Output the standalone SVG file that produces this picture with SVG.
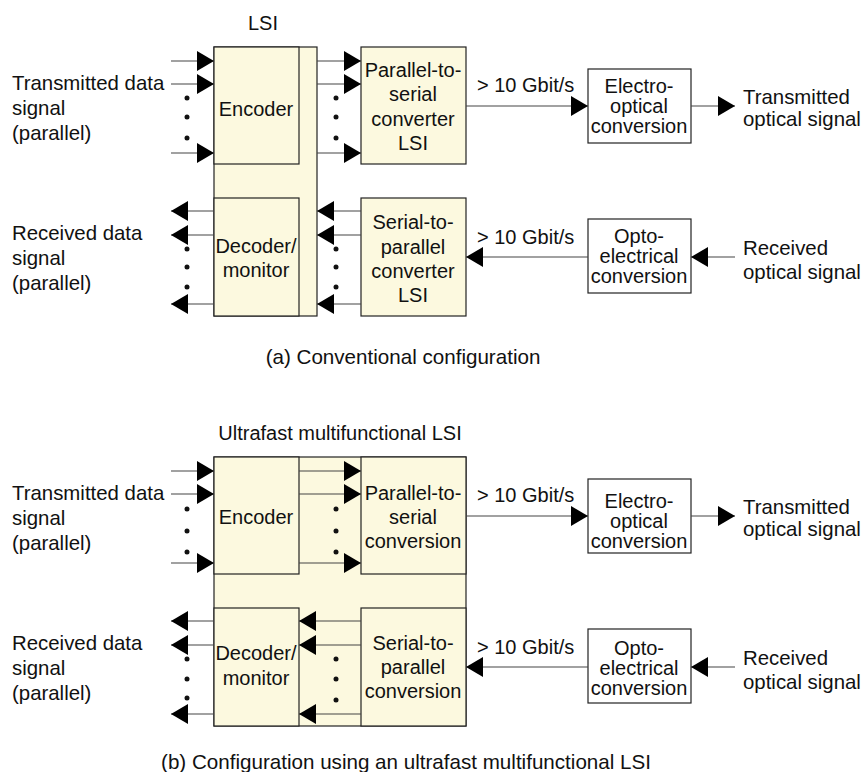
<svg xmlns="http://www.w3.org/2000/svg" width="863" height="772" viewBox="0 0 863 772">
<style>
text{font-family:"Liberation Sans",Arial,sans-serif;font-size:20px;fill:#111}
.c{text-anchor:middle}
.l{font-size:20.4px}
.cap{font-size:20.6px}
.box{fill:#fcf9df;stroke:#222;stroke-width:1.2}
.wbox{fill:#fff;stroke:#222;stroke-width:1.2}
.ln{stroke:#444;stroke-width:1.2;fill:none;marker-end:url(#ah)}
.dot{fill:#111}
</style>
<defs>
<marker id="ah" markerUnits="userSpaceOnUse" markerWidth="17" markerHeight="20" refX="17" refY="10" orient="auto" viewBox="0 0 17 20">
<path d="M0,0 L17,10 L0,20 z" fill="#000"/>
</marker>
</defs>
<rect width="863" height="772" fill="#fff"/>

<!-- ===== (a) ===== -->
<g id="a-lsi">
<rect class="box" x="214" y="47" width="103" height="269"/>
<text class="c" x="263" y="30">LSI</text>
</g>
<g id="a-encoder">
<rect class="box" x="214" y="47" width="85" height="117"/>
<text class="c" x="256" y="116">Encoder</text>
</g>
<g id="a-decoder">
<rect class="box" x="214" y="198" width="85" height="118"/>
<text class="c" x="256" y="253">Decoder/</text>
<text class="c" x="256" y="277">monitor</text>
</g>
<g id="a-ps">
<rect class="box" x="361" y="47" width="105" height="117"/>
<text class="c" x="413" y="77">Parallel-to-</text>
<text class="c" x="413" y="101">serial</text>
<text class="c" x="413" y="126">converter</text>
<text class="c" x="413" y="150">LSI</text>
</g>
<g id="a-sp">
<rect class="box" x="361" y="198" width="105" height="118"/>
<text class="c" x="413" y="229">Serial-to-</text>
<text class="c" x="413" y="254">parallel</text>
<text class="c" x="413" y="278">converter</text>
<text class="c" x="413" y="302">LSI</text>
</g>
<g id="a-eo">
<rect class="wbox" x="588" y="69" width="103" height="74"/>
<text class="c" x="639" y="93">Electro-</text>
<text class="c" x="639" y="113">optical</text>
<text class="c" x="639" y="133">conversion</text>
</g>
<g id="a-oe">
<rect class="wbox" x="588" y="219" width="103" height="74"/>
<text class="c" x="639" y="243">Opto-</text>
<text class="c" x="639" y="263">electrical</text>
<text class="c" x="639" y="283">conversion</text>
</g>
<g id="a-labels">
<text class="l" x="12" y="90">Transmitted data</text>
<text class="l" x="12" y="115">signal</text>
<text class="l" x="12" y="140">(parallel)</text>
<text class="l" x="12" y="240">Received data</text>
<text class="l" x="12" y="265">signal</text>
<text class="l" x="12" y="290">(parallel)</text>
<text x="477" y="92">&gt; 10 Gbit/s</text>
<text x="477" y="244">&gt; 10 Gbit/s</text>
<text class="l" x="743" y="104">Transmitted</text>
<text class="l" x="743" y="126">optical signal</text>
<text class="l" x="743" y="255">Received</text>
<text class="l" x="743" y="279">optical signal</text>
<text class="c cap" x="403" y="364">(a) Conventional configuration</text>
</g>

<!-- ===== (b) ===== -->
<g id="b-lsi">
<rect class="box" x="214" y="457" width="252" height="269"/>
<text class="c" x="340" y="440">Ultrafast multifunctional LSI</text>
</g>
<g id="b-encoder">
<rect class="box" x="214" y="457" width="85" height="117"/>
<text class="c" x="256" y="524">Encoder</text>
</g>
<g id="b-decoder">
<rect class="box" x="214" y="608" width="85" height="118"/>
<text class="c" x="256" y="660">Decoder/</text>
<text class="c" x="256" y="685">monitor</text>
</g>
<g id="b-ps">
<rect class="box" x="361" y="457" width="105" height="117"/>
<text class="c" x="413" y="500">Parallel-to-</text>
<text class="c" x="413" y="524">serial</text>
<text class="c" x="413" y="548">conversion</text>
</g>
<g id="b-sp">
<rect class="box" x="361" y="608" width="105" height="118"/>
<text class="c" x="413" y="650">Serial-to-</text>
<text class="c" x="413" y="674">parallel</text>
<text class="c" x="413" y="698">conversion</text>
</g>
<g id="b-eo">
<rect class="wbox" x="588" y="479" width="103" height="74"/>
<text class="c" x="639" y="508">Electro-</text>
<text class="c" x="639" y="528">optical</text>
<text class="c" x="639" y="548">conversion</text>
</g>
<g id="b-oe">
<rect class="wbox" x="588" y="629" width="103" height="74"/>
<text class="c" x="639" y="655">Opto-</text>
<text class="c" x="639" y="675">electrical</text>
<text class="c" x="639" y="695">conversion</text>
</g>
<g id="b-labels">
<text class="l" x="12" y="500">Transmitted data</text>
<text class="l" x="12" y="525">signal</text>
<text class="l" x="12" y="550">(parallel)</text>
<text class="l" x="12" y="650">Received data</text>
<text class="l" x="12" y="675">signal</text>
<text class="l" x="12" y="700">(parallel)</text>
<text x="477" y="502">&gt; 10 Gbit/s</text>
<text x="477" y="654">&gt; 10 Gbit/s</text>
<text class="l" x="743" y="514">Transmitted</text>
<text class="l" x="743" y="536">optical signal</text>
<text class="l" x="743" y="665">Received</text>
<text class="l" x="743" y="689">optical signal</text>
<text class="c cap" x="406" y="769">(b) Configuration using an ultrafast multifunctional LSI</text>
</g>

<g id="connectors">
<!-- (a) inputs -->
<line class="ln" x1="171" y1="61" x2="214" y2="61"/>
<line class="ln" x1="171" y1="84" x2="214" y2="84"/>
<line class="ln" x1="171" y1="153" x2="214" y2="153"/>
<!-- (a) LSI to P/S -->
<line class="ln" x1="317" y1="61" x2="361" y2="61"/>
<line class="ln" x1="317" y1="84" x2="361" y2="84"/>
<line class="ln" x1="317" y1="153" x2="361" y2="153"/>
<!-- (a) outputs -->
<line class="ln" x1="214" y1="211" x2="171" y2="211"/>
<line class="ln" x1="214" y1="235" x2="171" y2="235"/>
<line class="ln" x1="214" y1="304" x2="171" y2="304"/>
<!-- (a) S/P to LSI -->
<line class="ln" x1="361" y1="211" x2="317" y2="211"/>
<line class="ln" x1="361" y1="235" x2="317" y2="235"/>
<line class="ln" x1="361" y1="304" x2="317" y2="304"/>
<!-- (a) serial -->
<line class="ln" x1="466" y1="106" x2="588" y2="106"/>
<line class="ln" x1="691" y1="106" x2="735" y2="106"/>
<line class="ln" x1="588" y1="257" x2="466" y2="257"/>
<line class="ln" x1="735" y1="257" x2="691" y2="257"/>

<!-- (b) inputs -->
<line class="ln" x1="171" y1="471" x2="214" y2="471"/>
<line class="ln" x1="171" y1="494" x2="214" y2="494"/>
<line class="ln" x1="171" y1="563" x2="214" y2="563"/>
<!-- (b) encoder to P/S -->
<line class="ln" x1="299" y1="471" x2="361" y2="471"/>
<line class="ln" x1="299" y1="494" x2="361" y2="494"/>
<line class="ln" x1="299" y1="563" x2="361" y2="563"/>
<!-- (b) outputs -->
<line class="ln" x1="214" y1="621" x2="171" y2="621"/>
<line class="ln" x1="214" y1="645" x2="171" y2="645"/>
<line class="ln" x1="214" y1="714" x2="171" y2="714"/>
<!-- (b) S/P to decoder -->
<line class="ln" x1="361" y1="621" x2="299" y2="621"/>
<line class="ln" x1="361" y1="645" x2="299" y2="645"/>
<line class="ln" x1="361" y1="714" x2="299" y2="714"/>
<!-- (b) serial -->
<line class="ln" x1="466" y1="516" x2="588" y2="516"/>
<line class="ln" x1="691" y1="516" x2="735" y2="516"/>
<line class="ln" x1="588" y1="667" x2="466" y2="667"/>
<line class="ln" x1="735" y1="667" x2="691" y2="667"/>

<!-- dots -->
<g class="dot">
<circle cx="187" cy="98" r="2.5"/><circle cx="187" cy="117" r="2.5"/><circle cx="187" cy="138" r="2.5"/>
<circle cx="336" cy="98" r="2.5"/><circle cx="336" cy="117" r="2.5"/><circle cx="336" cy="138" r="2.5"/>
<circle cx="187" cy="249" r="2.5"/><circle cx="187" cy="267" r="2.5"/><circle cx="187" cy="287" r="2.5"/>
<circle cx="336" cy="249" r="2.5"/><circle cx="336" cy="267" r="2.5"/><circle cx="336" cy="287" r="2.5"/>
<circle cx="187" cy="509" r="2.5"/><circle cx="187" cy="531" r="2.5"/><circle cx="187" cy="552" r="2.5"/>
<circle cx="336" cy="509" r="2.5"/><circle cx="336" cy="531" r="2.5"/><circle cx="336" cy="552" r="2.5"/>
<circle cx="187" cy="659" r="2.5"/><circle cx="187" cy="679" r="2.5"/><circle cx="187" cy="698" r="2.5"/>
<circle cx="336" cy="659" r="2.5"/><circle cx="336" cy="679" r="2.5"/><circle cx="336" cy="700" r="2.5"/>
</g>
</g>
</svg>
